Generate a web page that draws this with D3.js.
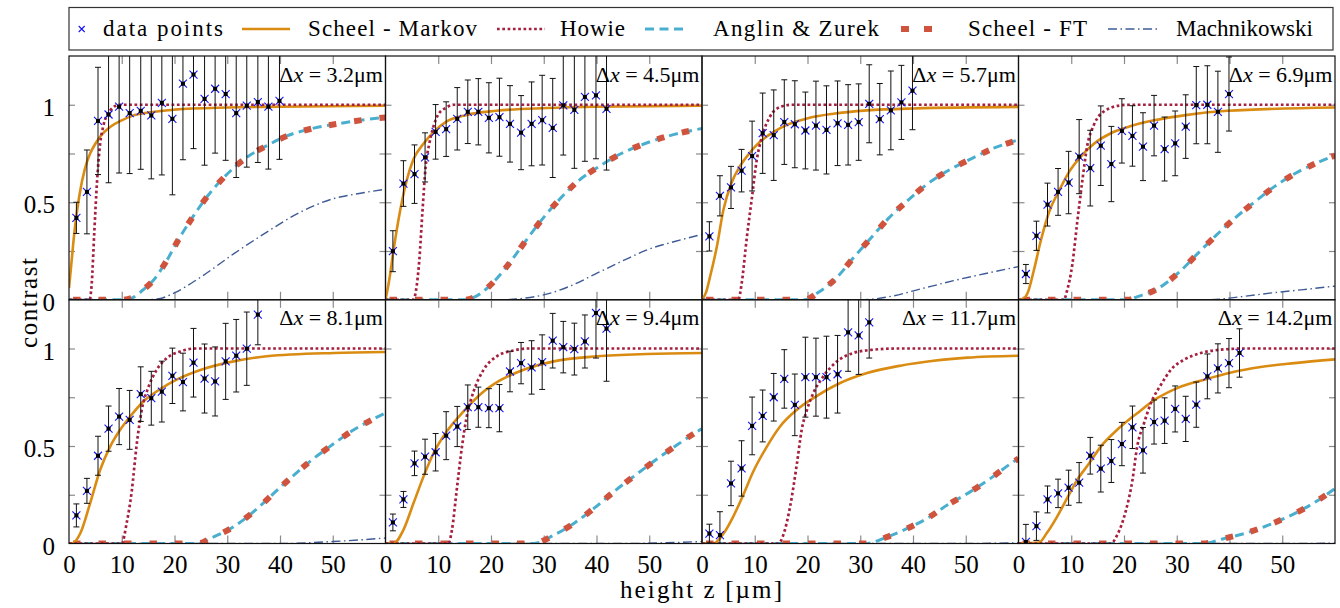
<!DOCTYPE html>
<html><head><meta charset="utf-8">
<script src="https://cdn.jsdelivr.net/npm/d3@7"></script>
<style>
body{margin:0;background:#fff;}
</style></head><body>
<svg id="chart" width="1340" height="608" style="font-family:'Liberation Serif','DejaVu Serif',serif"></svg>
<script>
// ---------------- data ----------------
const deltaX = ["3.2","4.5","5.7","6.9","8.1","9.4","11.7","14.2"];
const xTickLabels = [0,10,20,30,40,50];
const yTickLabels = [0,0.5,1];
const zPoints = [1.4,3.4,5.5,7.5,9.5,11.5,13.6,15.6,17.6,19.6,21.6,23.6,25.7,27.7,29.7,31.7,33.7,35.8,37.8,39.9,41.9];

const contrast = [
 [0.42,0.553,0.917,0.95,0.99,0.957,0.969,0.945,1.01,0.928,1.108,1.155,1.03,1.082,1.055,0.957,0.995,1.014,0.99,1.02],
 [0.249,0.596,0.644,0.73,0.861,0.875,0.928,0.964,0.964,0.933,0.936,0.902,0.857,0.902,0.921,0.881,0.997,0.974,1.04,1.048,0.979],
 [0.325,0.533,0.576,0.662,0.737,0.854,0.844,0.911,0.90,0.868,0.893,0.871,0.905,0.897,0.911,1.005,0.926,0.971,1.012,1.072],
 [0.132,0.328,0.488,0.553,0.601,0.734,0.675,0.79,0.696,0.866,0.84,0.785,0.893,0.773,0.802,0.888,0.998,1.0,0.964,1.055],
 [0.144,0.27,0.45,0.589,0.651,0.634,0.766,0.745,0.779,0.86,0.828,0.927,0.846,0.831,0.934,0.963,0.999,1.174],
 [0.108,0.226,0.411,0.445,0.468,0.553,0.6,0.699,0.699,0.694,0.694,0.882,0.925,0.903,0.93,1.04,1.007,0.997,1.036,1.182,1.102],
 [0.051,0.043,0.308,0.385,0.603,0.654,0.75,0.844,0.711,0.853,0.853,0.853,0.868,1.083,1.067,1.134],
 [0.008,0.089,0.226,0.257,0.286,0.312,0.45,0.384,0.423,0.51,0.596,0.478,0.623,0.63,0.69,0.639,0.712,0.857,0.898,0.925,0.977]
];
const errors = [
 [0.08,0.215,0.275,0.35,0.34,0.31,0.30,0.325,0.37,0.39,0.39,0.38,0.34,0.33,0.34,0.33,0.315,0.31,0.32,0.30],
 [0.105,0.117,0.15,0.126,0.14,0.14,0.16,0.163,0.17,0.18,0.2,0.196,0.19,0.215,0.23,0.254,0.255,0.30,0.33,0.325,0.314],
 [0.075,0.103,0.108,0.109,0.179,0.206,0.232,0.217,0.223,0.197,0.228,0.226,0.217,0.206,0.196,0.2,0.183,0.202,0.19,0.2],
 [0.049,0.075,0.11,0.12,0.16,0.19,0.194,0.204,0.193,0.165,0.155,0.174,0.155,0.164,0.166,0.163,0.198,0.2,0.208,0.19],
 [0.059,0.064,0.1,0.116,0.144,0.151,0.14,0.138,0.156,0.142,0.148,0.176,0.177,0.177,0.195,0.186,0.188,0.155],
 [0.043,0.041,0.063,0.09,0.096,0.123,0.103,0.114,0.103,0.1,0.121,0.104,0.106,0.137,0.14,0.14,0.132,0.133,0.136,0.231,0.27],
 [0.048,0.12,0.114,0.142,0.148,0.133,0.122,0.15,0.158,0.205,0.2,0.21,0.199,0.2,0.2,0.183],
 [0.09,0.073,0.069,0.073,0.09,0.103,0.094,0.12,0.11,0.111,0.109,0.117,0.113,0.117,0.118,0.116,0.116,0.115,0.126,0.126,0.124]
];

const scheelMarkov = [
 [[0,0.06],[0.5,0.2],[1,0.34],[1.5,0.45],[2,0.54],[3,0.67],[4,0.75],[5,0.8],[6,0.84],[8,0.89],[10,0.92],[12,0.943],[15,0.96],[20,0.975],[30,0.986],[40,0.99],[60,0.995]],
 [[0,0],[0.7,0.1],[1.5,0.25],[2.8,0.46],[4,0.61],[5.3,0.72],[7.2,0.8],[9.1,0.86],[11.6,0.915],[15.4,0.948],[21,0.969],[30.6,0.983],[40,0.99],[60,0.995]],
 [[0,0],[0.8,0.04],[1.5,0.115],[2.8,0.27],[4.05,0.46],[5.6,0.6],[7.2,0.685],[9.1,0.755],[11,0.81],[13.5,0.86],[16.1,0.897],[19.9,0.93],[24.9,0.954],[31.3,0.971],[40.1,0.981],[60,0.989]],
 [[0,0],[0.5,0],[1.65,0.03],[2.9,0.15],[4.2,0.3],[5.8,0.45],[7.7,0.56],[9.6,0.656],[11.8,0.734],[14.3,0.8],[17.5,0.854],[20.6,0.885],[25.7,0.92],[32,0.948],[39.6,0.969],[60,0.986]],
 [[0,0],[0.5,0],[2.1,0.05],[4,0.206],[5.9,0.377],[7.8,0.497],[9.7,0.583],[11.6,0.651],[14.1,0.728],[17.3,0.792],[20.4,0.84],[24.9,0.89],[31.2,0.934],[37.5,0.96],[50.2,0.977],[60,0.982]],
 [[0,0],[1.5,0],[3.4,0.07],[5.3,0.206],[7.2,0.343],[9.1,0.463],[11.6,0.574],[14.8,0.677],[17.9,0.763],[21.7,0.836],[26.2,0.891],[31.9,0.934],[40.1,0.96],[49.6,0.972],[60,0.977]],
 [[0,0],[2.2,0],[4.05,0.05],[5.9,0.137],[7.8,0.248],[9.7,0.368],[12.3,0.497],[14.8,0.6],[18,0.686],[21.8,0.757],[26.2,0.823],[31.3,0.874],[37.6,0.912],[43.9,0.937],[50.3,0.953],[60,0.963]],
 [[0,0],[3.9,0.005],[5.4,0.055],[7.3,0.137],[9.2,0.231],[11.1,0.325],[13.4,0.411],[15.6,0.497],[18.7,0.583],[22.5,0.668],[26.3,0.745],[30.1,0.797],[35.2,0.84],[40.3,0.877],[45.9,0.905],[52.3,0.925],[60,0.944]]
];
const howie = [
 [[0,0],[3.9,0],[4.3,0.08],[4.8,0.35],[5.3,0.6],[5.9,0.8],[6.5,0.89],[7.8,0.97],[9.5,1],[60,1]],
 [[0,0],[5.2,0],[5.8,0.05],[6.4,0.2],[7,0.45],[7.6,0.68],[8.3,0.8],[9,0.88],[10,0.95],[11.5,0.985],[13,1],[60,1]],
 [[0,0],[6.9,0],[7.5,0.08],[8.5,0.32],[9.4,0.51],[10.4,0.72],[11.3,0.83],[12.9,0.94],[14.8,0.988],[17,1],[60,1]],
 [[0,0],[8.6,0],[9.2,0.046],[10.2,0.18],[11.1,0.39],[12.1,0.61],[13,0.785],[14.3,0.897],[16.2,0.966],[19.4,0.997],[21,1],[60,1]],
 [[0,0],[10,0],[10.9,0.1],[11.9,0.27],[12.8,0.5],[13.8,0.686],[15.1,0.805],[16.6,0.89],[18.5,0.95],[21.1,0.985],[24,1],[60,1]],
 [[0,0],[11.9,0],[12.6,0.07],[13.5,0.274],[14.5,0.497],[15.4,0.651],[16.7,0.78],[18.6,0.891],[21.1,0.96],[24.3,0.99],[27,1],[60,1]],
 [[0,0],[14.5,0],[15.4,0.043],[16.7,0.189],[18,0.411],[18.9,0.583],[19.9,0.686],[21.1,0.771],[23,0.857],[25.6,0.934],[28.7,0.977],[32.5,0.994],[37,1],[60,1]],
 [[0,0],[17.5,0],[18.7,0.043],[20.3,0.163],[21.6,0.325],[22.5,0.497],[23.8,0.617],[25.1,0.72],[27,0.814],[28.9,0.891],[31.4,0.943],[34.6,0.977],[38.4,0.994],[43,1],[60,1]]
];
const anglinZurek = [
 [[0,0],[10,0],[12,0.01],[14,0.05],[16,0.1],[18.5,0.2],[21,0.32],[23.6,0.43],[26.5,0.54],[29.6,0.634],[33.4,0.725],[37.5,0.79],[41.3,0.84],[46.4,0.88],[51.5,0.905],[56,0.923],[60,0.935]],
 [[0,0],[15,0],[17.3,0.02],[20.8,0.1],[24,0.206],[26.8,0.31],[29.8,0.416],[33,0.515],[36.5,0.608],[40.4,0.682],[44.7,0.75],[49.1,0.8],[53.7,0.84],[58.4,0.87],[60,0.878]],
 [[0,0],[19.5,0],[21.8,0.033],[25.6,0.115],[28.7,0.215],[31.9,0.313],[35.3,0.416],[38.9,0.507],[42.7,0.593],[46.5,0.66],[51.2,0.725],[55.3,0.777],[60,0.82]],
 [[0,0],[21,0],[22.2,0.012],[26.3,0.055],[30.4,0.14],[33.9,0.235],[37.3,0.326],[40.9,0.416],[44.7,0.5],[48.5,0.58],[52.6,0.65],[56.4,0.7],[60,0.74]],
 [[0,0],[24.5,0],[26.8,0.026],[31.2,0.086],[35,0.163],[38.8,0.257],[42.3,0.343],[46.1,0.43],[49.9,0.506],[54,0.583],[58.4,0.648],[60,0.67]],
 [[0,0],[28,0],[31.9,0.043],[35.7,0.103],[39.5,0.18],[43.3,0.266],[47.4,0.351],[51.2,0.428],[55.3,0.506],[59.1,0.574],[60,0.588]],
 [[0,0],[31,0],[35.1,0.034],[38.9,0.077],[42.7,0.129],[46.5,0.197],[50.9,0.266],[54.7,0.334],[59.1,0.42],[60,0.435]],
 [[0,0],[35,0],[39,0.026],[42.8,0.051],[46.6,0.086],[50.4,0.129],[54.2,0.18],[59.6,0.274],[60,0.282]]
];
// Scheel - FT coincides with Anglin & Zurek in every panel
const scheelFT = anglinZurek;
const machnikowski = [
 [[0,0],[14,0],[17,0.005],[19.8,0.033],[24.9,0.115],[31.2,0.235],[37.5,0.347],[43.9,0.45],[50.2,0.519],[55,0.545],[60,0.567]],
 [[0,0],[22,0],[26,0.007],[30,0.025],[35,0.07],[40,0.135],[45,0.2],[50,0.26],[55,0.3],[60,0.335]],
 [[0,0],[30,0],[36.3,0.02],[41.4,0.055],[47.7,0.098],[54,0.136],[60,0.17]],
 [[0,0],[36,0],[42,0.015],[48,0.035],[54,0.052],[60,0.07]],
 [[0,0],[40,0],[50,0.01],[60,0.028]],
 [[0,0],[45,0],[60,0.01]],
 [[0,0],[50,0],[60,0.004]],
 [[0,0],[55,0],[60,0.002]]
];
const legendLabels = ["data points","Scheel - Markov","Howie","Anglin & Zurek","Scheel - FT","Machnikowski"];

// ---------------- styles ----------------
const FONT = "'Liberation Serif','DejaVu Serif',serif";
const styles = {
  sm:  {stroke:"#da8b12", width:2.6, dash:null},
  how: {stroke:"#a51f3e", width:2.7, dash:"2.7,2.6"},
  az:  {stroke:"#4aafcf", width:3, dash:"9,5.5"},
  ft:  {stroke:"#d0533d", width:6, dash:"7.5,18"},
  ma:  {stroke:"#3e5b97", width:1.4, dash:"9,3.5,1.5,3.5"}
};

const svg = d3.select("#chart");
const W = 316.5, H = 243.75, L = 69, T = 56;
const defs = svg.append("defs");

function styleLine(sel, s){
  sel.attr("fill","none").attr("stroke",s.stroke).attr("stroke-width",s.width);
  if (s.dash) sel.attr("stroke-dasharray",s.dash);
  return sel;
}
function txt(sel){ return sel.style("font-family",FONT).attr("fill","#000"); }

for (let i=0;i<8;i++){
  const col=i%4, row=Math.floor(i/4);
  const x0=L+col*W, y0=T+row*H;
  const x=d3.scaleLinear().domain([0,60]).range([x0,x0+W]);
  const y=d3.scaleLinear().domain([0,1.25]).range([y0+H,y0]);
  const g=svg.append("g");

  defs.append("clipPath").attr("id","clip"+i).append("rect")
    .attr("x",x0).attr("y",y0).attr("width",W).attr("height",H);

  const tickCol="#8a8a8a";
  const axes=[
    [d3.axisBottom(x).tickValues([10,20,30,40,50]).tickSize(-8), `translate(0,${y0+H})`],
    [d3.axisTop(x).tickValues([10,20,30,40,50]).tickSize(-8), `translate(0,${y0})`],
    [d3.axisLeft(y).tickValues([0.25,0.5,0.75,1]).tickSize(-6), `translate(${x0},0)`],
    [d3.axisRight(y).tickValues([0.25,0.5,0.75,1]).tickSize(-6), `translate(${x0+W},0)`]
  ];
  axes.forEach(([ax,tr])=>{
    const a=g.append("g").attr("transform",tr).call(ax.tickFormat(""));
    a.select(".domain").remove();
    a.selectAll("line").attr("stroke",tickCol).attr("stroke-width",1.2);
  });

  const pg=g.append("g").attr("clip-path",`url(#clip${i})`);
  const line=d3.line().x(d=>x(d[0])).y(d=>y(d[1])).curve(d3.curveMonotoneX);

  styleLine(pg.append("path").attr("d",line(machnikowski[i])), styles.ma);
  styleLine(pg.append("path").attr("d",line(anglinZurek[i])), styles.az);
  styleLine(pg.append("path").attr("d",line(scheelFT[i])), styles.ft).attr("stroke-dashoffset",-4);
  styleLine(pg.append("path").attr("d",line(scheelMarkov[i])), styles.sm);
  styleLine(pg.append("path").attr("d",line(howie[i])), styles.how);

  const pts=contrast[i].map((c,k)=>({z:zPoints[k],c:c,e:errors[i][k]}));
  const pt=pg.selectAll(".pt").data(pts).enter().append("g");
  pt.append("line").attr("x1",d=>x(d.z)).attr("x2",d=>x(d.z))
    .attr("y1",d=>y(d.c-d.e)).attr("y2",d=>y(d.c+d.e))
    .attr("stroke","#111").attr("stroke-width",1);
  [-1,1].forEach(sg=>{
    pt.append("line").attr("x1",d=>x(d.z)-3).attr("x2",d=>x(d.z)+3)
      .attr("y1",d=>y(d.c+sg*d.e)).attr("y2",d=>y(d.c+sg*d.e))
      .attr("stroke","#111").attr("stroke-width",1);
  });
  pt.append("path").attr("d",d=>{const px=x(d.z),py=y(d.c);return `M${px-4},${py-4}L${px+4},${py+4}M${px-4},${py+4}L${px+4},${py-4}`;})
    .attr("stroke","#1414ff").attr("stroke-width",1.1).attr("fill","none");
  pt.append("rect").attr("x",d=>x(d.z)-2).attr("y",d=>y(d.c)-2).attr("width",4).attr("height",4).attr("fill","#000");

  g.append("rect").attr("x",x0).attr("y",y0).attr("width",W).attr("height",H)
    .attr("fill","none").attr("stroke","#111").attr("stroke-width",1.2);

  const t=txt(g.append("text")).attr("x",x0+W-2.5).attr("y",y0+25.5).attr("text-anchor","end").attr("font-size",22);
  t.append("tspan").text("Δ");
  t.append("tspan").attr("font-style","italic").text("x");
  t.append("tspan").text(" = "+deltaX[i]+"μm");

  if (col===0){
    const a=g.append("g").attr("transform",`translate(${x0},0)`)
      .call(d3.axisLeft(y).tickValues(yTickLabels).tickSize(0).tickPadding(14).tickFormat(d3.format("")));
    a.select(".domain").remove();
    txt(a.selectAll("text")).attr("font-size",25).attr("dy","0.42em");
  }
  if (row===1){
    const a=g.append("g").attr("transform",`translate(0,${y0+H})`)
      .call(d3.axisBottom(x).tickValues(xTickLabels).tickSize(0).tickPadding(12).tickFormat(d3.format("")));
    a.select(".domain").remove();
    txt(a.selectAll("text")).attr("font-size",25);
  }
}

txt(svg.append("text")).attr("transform","translate(37,303) rotate(-90)").attr("text-anchor","middle")
  .attr("font-size",25).attr("textLength",90).attr("lengthAdjust","spacing").text("contrast");
txt(svg.append("text")).attr("x",701).attr("y",598).attr("text-anchor","middle")
  .attr("font-size",25).attr("textLength",162).attr("lengthAdjust","spacing").text("height z [µm]");

const lg=svg.append("g");
lg.append("rect").attr("x",69).attr("y",7.5).attr("width",1264).attr("height",42.5)
  .attr("fill","#fff").attr("stroke","#333").attr("stroke-width",1.2);
const ly=29, lb=35.5;
lg.append("path").attr("d",`M78.7,${ly-3}L84.7,${ly+3}M78.7,${ly+3}L84.7,${ly-3}`).attr("stroke","#1414ff").attr("stroke-width",1.1);
const legSamples=[
  {x1:242,x2:290,s:styles.sm},
  {x1:497,x2:545,s:styles.how},
  {x1:645,x2:688,s:styles.az},
  {x1:901,x2:934,s:{stroke:styles.ft.stroke,width:6,dash:"8,15"}},
  {x1:1108,x2:1158,s:styles.ma}
];
legSamples.forEach(d=>{
  styleLine(lg.append("line").attr("x1",d.x1).attr("x2",d.x2).attr("y1",ly).attr("y2",ly), d.s);
});
const legText=[{x:103,w:120},{x:308,w:169},{x:560,w:65},{x:713,w:166},{x:968,w:119},{x:1176,w:137}];
legText.forEach((d,k)=>{
  txt(lg.append("text")).attr("x",d.x).attr("y",lb).attr("font-size",23)
    .attr("textLength",d.w).attr("lengthAdjust","spacing").text(legendLabels[k]);
});
</script>
</body></html>
